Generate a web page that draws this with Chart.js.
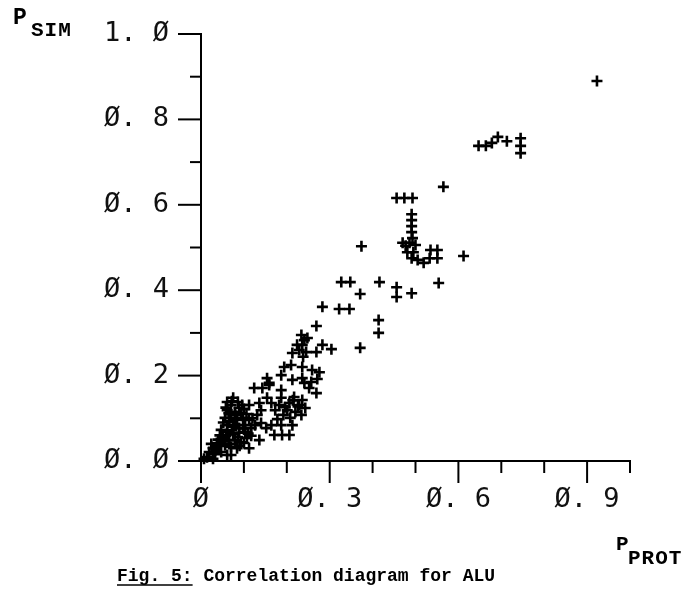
<!DOCTYPE html>
<html><head><meta charset="utf-8">
<script src="https://cdn.jsdelivr.net/npm/chart.js@4/dist/chart.umd.min.js"></script>
<style>html,body{margin:0;padding:0;background:#fff}#wrap{width:687px;height:591px;position:relative}</style>
</head><body><div id="wrap"><canvas id="c"></canvas></div>
<script>
// P_PROT (x) and P_SIM (y) of each plotted point
const pProt = [0.923,0.647,0.664,0.678,0.692,0.713,0.745,0.745,0.745,
  0.565,0.456,0.474,0.493,0.491,0.491,0.491,0.491,0.493,0.486,0.477,0.500,0.481,0.495,0.491,0.505,0.519,0.533,0.535,0.551,0.551,0.612,0.470,
  0.374,0.554,0.456,0.456,0.491,0.416,0.327,0.348,0.371,0.322,0.346,0.283,0.414,0.414,0.371,0.269,
  0.234,0.241,0.236,0.229,0.245,0.248,0.224,0.238,0.283,0.304,0.213,0.269,0.194,0.210,0.236,0.259,0.276,0.187,0.213,0.236,0.257,0.271,0.154,0.159,0.269,0.241,0.252,
  0.124,0.143,0.159,0.187,0.187,0.217,0.236,0.206,0.229,0.243,0.234,0.220,0.201,0.182,0.173,0.164,0.192,0.208,0.154,0.136,0.112,0.096,0.061,0.164,0.187,0.213,0.171,0.189,0.206,0.140,0.152,0.131,0.140,
  0.061,0.070,0.079,0.089,0.056,0.070,0.084,0.098,0.112,0.061,0.075,0.089,0.103,0.117,0.126,0.047,0.061,0.075,0.089,0.103,0.117,0.051,0.065,0.079,0.093,0.107,0.037,0.056,0.070,0.084,0.028,0.019,0.033,0.047,0.061,0.014,0.028,0.070,0.042,0.079,0.065,0.075,0.100,0.007,0.136,0.112,
  0.052,0.066,0.080,0.094,0.106,0.058,0.072,0.086,0.100,0.044,0.058,0.072,0.086,0.098,0.040,0.024,0.034,0.052,0.066,0.090,0.110,0.120,0.196,0.226,0.178,0.214];
const pSim = [0.890,0.738,0.738,0.745,0.759,0.749,0.756,0.738,0.721,
  0.642,0.616,0.616,0.616,0.578,0.564,0.550,0.536,0.522,0.511,0.504,0.506,0.489,0.489,0.475,0.471,0.464,0.475,0.494,0.494,0.475,0.480,0.511,
  0.503,0.417,0.407,0.384,0.393,0.419,0.419,0.419,0.391,0.356,0.356,0.361,0.330,0.300,0.265,0.316,
  0.295,0.283,0.272,0.260,0.255,0.288,0.272,0.244,0.272,0.262,0.253,0.255,0.220,0.225,0.220,0.213,0.208,0.201,0.190,0.194,0.185,0.192,0.194,0.178,0.159,0.183,0.171,
  0.171,0.171,0.183,0.166,0.148,0.150,0.143,0.136,0.131,0.124,0.108,0.115,0.119,0.131,0.119,0.136,0.108,0.101,0.148,0.136,0.131,0.131,0.138,0.084,0.084,0.084,0.061,0.061,0.061,0.089,0.077,0.108,0.119,
  0.119,0.131,0.115,0.124,0.101,0.101,0.096,0.101,0.096,0.084,0.080,0.077,0.084,0.077,0.084,0.073,0.068,0.063,0.066,0.068,0.059,0.054,0.049,0.049,0.044,0.054,0.042,0.037,0.033,0.030,0.030,0.021,0.016,0.021,0.014,0.009,0.005,0.014,0.035,0.084,0.112,0.148,0.042,0.005,0.049,0.030,
  0.090,0.092,0.108,0.112,0.110,0.125,0.140,0.138,0.122,0.060,0.058,0.072,0.056,0.076,0.050,0.040,0.026,0.046,0.040,0.036,0.064,0.100,0.126,0.128,0.098,0.142];

const xTickValues = [0, 0.3, 0.6, 0.9];
const xTickLabels = ['Ø', 'Ø. 3', 'Ø. 6', 'Ø. 9'];
const yTickValues = [0, 0.2, 0.4, 0.6, 0.8, 1.0];
const yTickLabels = ['Ø. Ø', 'Ø. 2', 'Ø. 4', 'Ø. 6', 'Ø. 8', '1. Ø'];
const yTitle = ['P', 'SIM'];
const xTitle = ['P', 'PROT'];
const captionHead = 'Fig. 5:';
const captionTail = ' Correlation diagram for ALU';

function labelFor(v, vals, labels) {
  for (let i = 0; i < vals.length; i++) if (Math.abs(vals[i] - v) < 1e-6) return labels[i];
  return '';
}
function isMajor(v, vals) { return vals.some(m => Math.abs(m - v) < 1e-6); }

const tickFont = { family: 'DejaVu Sans Mono', size: 27, weight: 'normal' };

const decor = {
  id: 'decor',
  afterDraw(chart) {
    const ctx = chart.ctx, xs = chart.scales.x, ys = chart.scales.y, ca = chart.chartArea;
    ctx.save();
    ctx.strokeStyle = '#000'; ctx.lineWidth = 2;
    xs.ticks.forEach(t => {
      const px = xs.getPixelForValue(t.value);
      const len = isMajor(t.value, xTickValues) ? 22 : 12;
      ctx.beginPath(); ctx.moveTo(px, ca.bottom); ctx.lineTo(px, ca.bottom + len); ctx.stroke();
    });
    ys.ticks.forEach(t => {
      const py = ys.getPixelForValue(t.value);
      const len = isMajor(t.value, yTickValues) ? 23 : 11;
      ctx.beginPath(); ctx.moveTo(ca.left, py); ctx.lineTo(ca.left - len, py); ctx.stroke();
    });
    ctx.fillStyle = '#000';
    ctx.textBaseline = 'alphabetic'; ctx.textAlign = 'left';
    ctx.font = 'bold 23px "Liberation Mono"';
    ctx.letterSpacing = '0px';
    ctx.fillText(yTitle[0], 13, 24);
    ctx.font = 'bold 21px "Liberation Mono"';
    ctx.letterSpacing = '1px';
    ctx.fillText(yTitle[1], 31, 36);
    ctx.letterSpacing = '0px';
    ctx.font = 'bold 21px "Liberation Mono"';
    ctx.fillText(xTitle[0], 616, 550);
    ctx.letterSpacing = '1px';
    ctx.fillText(xTitle[1], 628, 564);
    ctx.letterSpacing = '0px';
    ctx.font = 'bold 18px "Liberation Mono"';
    const x0 = 117, by = 581;
    ctx.fillText(captionHead, x0, by);
    const w = ctx.measureText(captionHead).width;
    ctx.fillText(captionTail, x0 + w, by);
    ctx.lineWidth = 1.5;
    ctx.beginPath(); ctx.moveTo(x0, by + 4); ctx.lineTo(x0 + w, by + 4); ctx.stroke();
    ctx.restore();
  }
};

new Chart(document.getElementById('c'), {
  type: 'scatter',
  data: {
    datasets: [{
      data: pProt.map((x, i) => ({ x: x, y: pSim[i] })),
      pointStyle: 'cross',
      pointRadius: 5.5,
      pointBorderWidth: 2.6,
      borderColor: '#000',
      backgroundColor: '#000',
      clip: false
    }]
  },
  options: {
    responsive: true,
    maintainAspectRatio: false,
    animation: false,
    events: [],
    layout: { padding: { top: 34, right: 57, left: 0, bottom: 0 } },
    plugins: { legend: { display: false }, tooltip: { enabled: false } },
    scales: {
      x: {
        type: 'linear', min: 0, max: 1,
        afterFit(s) { s.height = 130; s.paddingLeft = 0; s.paddingRight = 0; },
        grid: { display: false },
        border: { display: true, color: '#000', width: 2 },
        ticks: {
          stepSize: 0.1, autoSkip: false, maxRotation: 0, padding: 15,
          color: '#111', font: tickFont,
          callback: v => labelFor(v, xTickValues, xTickLabels)
        }
      },
      y: {
        type: 'linear', min: 0, max: 1,
        afterFit(s) { s.width = 201; s.paddingTop = 0; s.paddingBottom = 0; },
        grid: { display: false },
        border: { display: true, color: '#000', width: 2 },
        ticks: {
          stepSize: 0.1, autoSkip: false, padding: 24,
          color: '#111', font: tickFont,
          callback: v => labelFor(v, yTickValues, yTickLabels)
        }
      }
    }
  },
  plugins: [decor]
});
</script>
</body></html>
